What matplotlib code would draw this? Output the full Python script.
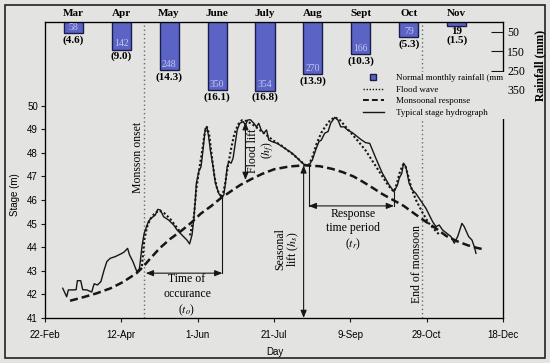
import numpy as np
import matplotlib
matplotlib.use("Agg")
import matplotlib.pyplot as plt
from matplotlib.lines import Line2D
from matplotlib.patches import Rectangle

plt.rcParams["font.family"] = ["Liberation Serif", "DejaVu Serif"]
plt.rcParams["mathtext.fontset"] = "stix"

# x axis: days counted from 22-Feb (leap year), ticks every 50 days
tick_days = [0, 50, 100, 150, 200, 250, 300]
tick_labels = ["22-Feb", "12-Apr", "1-Jun", "21-Jul", "9-Sep", "29-Oct", "18-Dec"]

# normal monthly rainfall (mm) and rainy days
months = ["Mar", "Apr", "May", "June", "July", "Aug", "Sept", "Oct", "Nov"]
rain_mm = [58, 142, 248, 350, 354, 270, 166, 79, 19]
rain_days = ["(4.6)", "(9.0)", "(14.3)", "(16.1)", "(16.8)", "(13.9)", "(10.3)", "(5.3)", "(1.5)"]

# typical stage hydrograph
stage_day = [11.6, 14.2, 15.3, 18.6, 20.4, 21.2, 23.4, 24.7, 27.4, 30.6, 32.2, 34.4,
             36.6, 38.7, 40.5, 42.7, 46.0, 50.4, 51.9, 54.1, 55.4, 57.6, 60.2, 61.9,
             63.5, 65.0, 67.8, 70.0, 72.2, 73.8, 75.5, 77.7, 81.0, 84.3, 86.5, 88.6,
             90.8, 93.0, 94.7, 96.3, 97.4, 98.5, 99.1, 100.7, 102.2, 103.5, 105.0,
             106.2, 107.2, 108.3, 110.1, 111.6, 113.8, 115.6, 117.1, 118.2, 119.3,
             120.4, 121.9, 123.2, 124.3, 125.9, 127.6, 129.8, 131.3, 132.8, 134.6,
             136.8, 138.5, 140.0, 141.6, 143.3, 145.1, 146.6, 148.8, 152.1, 155.4,
             158.7, 162.0, 165.3, 168.6, 170.7, 172.9, 175.1, 177.3, 179.4, 181.0,
             183.2, 185.4, 187.1, 189.8, 191.9, 193.7, 195.9, 198.1, 201.4, 204.7,
             206.8, 210.0, 212.7, 214.5, 216.7, 221.0, 225.4, 228.6, 230.9, 232.0,
             233.7, 234.9, 236.4, 238.5, 240.7, 242.9, 245.1, 247.3, 249.5, 251.7,
             253.9, 256.1, 258.2, 260.4, 263.1, 265.9, 268.1, 270.3, 273.1, 274.6,
             277.5, 279.7, 281.2, 282.3]
stage_m = [42.26, 41.9, 42.19, 42.19, 42.2, 42.58, 42.58, 42.2, 42.19, 42.1, 42.45, 42.4,
           42.54, 43.03, 43.39, 43.53, 43.6, 43.74, 43.8, 43.95, 43.67, 43.39, 42.96, 43.1,
           44.02, 44.6, 45.1, 45.25, 45.36, 45.6, 45.58, 45.29, 45.15, 44.94, 44.73, 44.59,
           44.45, 44.3, 44.14, 44.52, 45.15, 46.0, 46.7, 47.2, 47.41, 48.12, 49.04,
           49.04, 48.68, 48.12, 47.41, 46.71, 46.28, 46.11, 46.21, 46.71, 47.41,
           47.62, 47.56, 47.77, 48.26, 48.97, 49.25, 49.32, 49.18, 49.39, 49.4,
           49.25, 49.1, 49.25, 48.97, 48.83, 48.97, 48.54, 48.47, 48.4, 48.26,
           48.12, 47.98, 47.77, 47.56, 47.48, 47.48, 47.69, 48.12, 48.47, 48.54,
           48.83, 48.9, 49.25, 49.5, 49.39, 49.1, 49.1, 48.97, 48.85, 48.68,
           48.57, 48.43, 48.4, 48.12, 47.77, 47.13, 46.64, 46.35, 46.64, 46.92,
           47.13, 47.56, 47.41, 46.71, 46.42, 46.28, 46.07, 45.86, 45.65, 45.36,
           45.08, 44.87, 44.94, 44.73, 44.59, 44.45, 44.17, 44.45, 45.01, 44.87,
           44.45, 44.3, 44.02, 43.74]

# flood waves (NaN separates waves)
flood_day = [63.5, 65, 66.8, 69, 72, 75, 78, 82, 85, 88.5, np.nan,
             95, 97.5, 99, 101, 103, 104.5, 106, 107.5, 109, 111, 113, 116,
             118, 120, 122, 124, 126.5, 129, 132, 136, 140, 145, 150, 155, 160, 165, 170, 172.5,
             175, 178, 181, 184, 187, 190, 193, 197, 201, 205, 210, 215, 220, 225, 228.5,
             230.5, 232.5, 234.5, 236, 238, 240, 243, 247, 251, 255, 258]
flood_m = [43.2, 44.3, 44.85, 45.2, 45.45, 45.55, 45.45, 45.2, 44.95, 44.65, np.nan,
           44.5, 45.3, 46.4, 47.3, 48.1, 48.8, 49.1, 48.8, 48.0, 47.0, 46.4, 46.1,
           46.7, 47.5, 48.2, 48.8, 49.2, 49.38, 49.35, 49.2, 49.0, 48.75, 48.5, 48.3, 48.05, 47.8, 47.5, 47.45,
           47.8, 48.4, 48.85, 49.15, 49.4, 49.5, 49.4, 49.1, 48.8, 48.5, 48.1, 47.6, 47.1, 46.6, 46.35,
           46.7, 47.2, 47.5, 47.45, 47.0, 46.5, 46.0, 45.5, 45.05, 44.75, 44.55]

# monsoonal response
monsoon_day = [16.4, 25, 34, 43, 51, 60, 64, 68, 75, 82, 89, 96, 102, 109, 115, 122, 128,
               135, 142, 150, 160, 170, 180, 188, 195, 202, 208, 215, 221, 228, 235, 242,
               249, 256, 263, 270, 277, 283, 288]
monsoon_m = [41.73, 41.88, 42.05, 42.26, 42.52, 42.9, 43.15, 43.45, 43.95, 44.35, 44.68,
             45.05, 45.42, 45.75, 46.07, 46.38, 46.64, 46.88, 47.1, 47.3, 47.42, 47.47,
             47.43, 47.32, 47.18, 47.0, 46.78, 46.5, 46.25, 46.0, 45.75, 45.42, 45.1,
             44.8, 44.47, 44.25, 44.08, 43.97, 43.9]

onset_day = 65
end_day = 247

BG = "#e3e3e1"
BAR = "#5b63c4"
INK = "#161616"

fig = plt.figure(figsize=(5.5, 3.63), dpi=100, facecolor=BG)
ax = fig.add_axes([45 / 550, 45 / 363, 458 / 550, 296 / 363])
ax.set_facecolor(BG)
ax.set_xlim(0, 300)
ax.set_ylim(41, 41 + 296 / 23.6)
ax.set_yticks(range(41, 51))
ax.set_xticks(tick_days)
ax.set_xticklabels(tick_labels)
for lab in ax.get_xticklabels() + ax.get_yticklabels():
    lab.set_fontfamily("Liberation Sans")
    lab.set_fontsize(7)
ax.tick_params(length=3, width=0.8, pad=2, color=INK)
ax.tick_params(axis="x", pad=6)
for s in ax.spines.values():
    s.set_color(INK)
    s.set_linewidth(0.9)

# monsoon onset / end lines
for d in (onset_day, end_day):
    ax.axvline(d, color="#6a6a6a", lw=1.0, linestyle=(0, (1, 2)))

ax.plot(monsoon_day, monsoon_m, color=INK, lw=1.8, linestyle=(0, (3.2, 1.6)))
ax.plot(flood_day, flood_m, color=INK, lw=1.5, linestyle=(0, (1, 1.1)))
ax.plot(stage_day, stage_m, color=INK, lw=1.0)

# rainfall bars on inverted secondary axis
ax2 = ax.twinx()
ax2.set_ylim(1525, 0)
ax2.set_yticks([50, 150, 250, 350])
ax2.tick_params(axis="y", direction="in", length=9, width=0.8, pad=3, labelsize=8.5, color=INK)
bar_x = np.arange(len(months)) * 31.4 + 18.5
ax2.bar(bar_x, rain_mm, width=12.5, color=BAR, edgecolor="#1c1c4a", linewidth=1.0)
for x, v, m, rd in zip(bar_x, rain_mm, months, rain_days):
    ax2.text(x, -20, m, ha="center", va="bottom", fontsize=8, fontweight="bold")
    if v > 40:
        ax2.annotate(str(v), (x, v), xytext=(0, 1), textcoords="offset points",
                     ha="center", va="bottom", fontsize=7, color="#c4c6ee")
        ax2.annotate(rd, (x, v), xytext=(0, -1.5), textcoords="offset points",
                     ha="center", va="top", fontsize=8, fontweight="bold")
    else:
        ax2.annotate(str(v) + "\n" + rd, (x, v), xytext=(0, -1), textcoords="offset points",
                     ha="center", va="top", fontsize=8, fontweight="bold", linespacing=0.95)

fig.text(540 / 550, 1 - 65 / 363, "Rainfall (mm)", rotation=90, ha="center", va="center",
         fontsize=8.5, fontweight="bold")
fig.text(15 / 550, 1 - 195 / 363, "Stage (m)", rotation=90, ha="center", va="center",
         fontsize=7, family="Liberation Sans")
fig.text(275 / 550, 1 - 352 / 363, "Day", ha="center", va="center",
         fontsize=7, family="Liberation Sans")

# annotations
arr = dict(arrowstyle="<|-|>,head_length=0.45,head_width=0.18", color=INK, lw=0.8,
           shrinkA=0, shrinkB=0)
ax.annotate("", xy=(onset_day + 1, 42.9), xytext=(116.2, 42.9), arrowprops=arr)
ax.plot([116.2, 116.2], [46.1, 42.9], color=INK, lw=0.8)
ax.text(93, 41.95, "Time of\noccurance\n($t_o$)", ha="center", va="center", fontsize=8.5,
        linespacing=1.25)

ax.annotate("", xy=(131.3, 49.3), xytext=(131.3, 46.85), arrowprops=arr)
ax.text(141.5, 48.1, "Flood lift\n($h_f$)", rotation=90, ha="center", va="center",
        fontsize=8.5, linespacing=1.0)

ax.annotate("", xy=(169.4, 47.47), xytext=(169.4, 41), arrowprops=arr)
ax.text(159, 43.9, "Seasonal\nlift ($h_s$)", rotation=90, ha="center", va="center",
        fontsize=8.5, linespacing=1.0)

ax.plot([172.7, 172.7], [47.48, 45.75], color=INK, lw=0.8)
ax.plot([228.6, 228.6], [46.35, 45.75], color=INK, lw=0.8)
ax.annotate("", xy=(172.7, 45.75), xytext=(228.6, 45.75), arrowprops=arr)
ax.text(201.6, 44.72, "Response\ntime period\n($t_r$)", ha="center", va="center",
        fontsize=8.5, linespacing=1.25)

ax.text(61, 47.8, "Monsson onset", rotation=90, ha="center", va="center", fontsize=8.5)
ax.text(243.6, 43.3, "End of monsoon", rotation=90, ha="center", va="center", fontsize=8.5)

# legend
handles = [
    Line2D([], [], marker="s", color=BAR, markeredgecolor="#1c1c4a", linestyle="none",
           markersize=5),
    Line2D([], [], color=INK, lw=1.0, linestyle=(0, (1, 1.2))),
    Line2D([], [], color=INK, lw=1.4, linestyle=(0, (3, 1.6))),
    Line2D([], [], color=INK, lw=1.0),
]
labels = ["Normal monthly rainfall (mm)", "Flood wave", "Monsoonal response",
          "Typical stage hydrograph"]
leg = ax2.legend(handles, labels, loc="upper left", bbox_to_anchor=(0.69, 0.83),
                 frameon=True, facecolor=BG, edgecolor="none", framealpha=1,
                 fontsize=6.5, handlelength=2.3, handletextpad=1.4, labelspacing=0.35,
                 borderpad=0.2, borderaxespad=0)
leg.get_frame().set_boxstyle("square", pad=0)
for t in leg.get_texts():
    t.set_clip_on(True)
    t.set_clip_box(ax.bbox)

# outer frame of the figure
fig.patches.append(Rectangle((5 / 550, 5 / 363), 540 / 550, 353 / 363, transform=fig.transFigure,
                             fill=False, lw=1.2, edgecolor="#222222"))

fig.savefig("out.png", dpi=100, facecolor=BG)
